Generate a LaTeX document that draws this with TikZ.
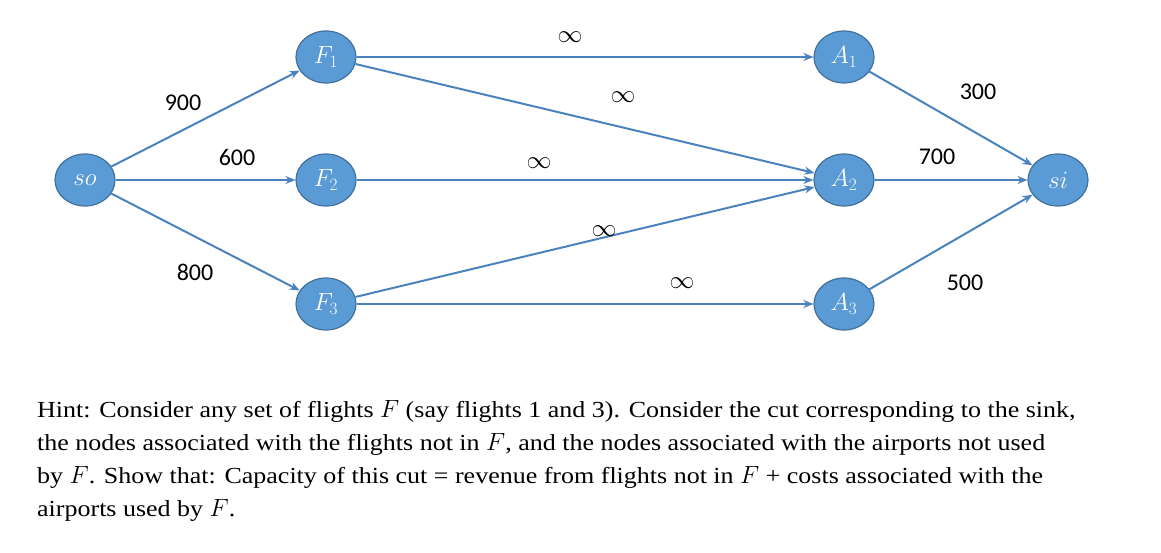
\documentclass[tikz,border=0pt]{standalone}
\usepackage{fontspec}
\setmainfont{Liberation Serif}[FakeStretch=1.13]
\newfontfamily\numfont{Carlito}
\usetikzlibrary{shapes.geometric,arrows.meta}
\definecolor{nodefill}{HTML}{5B9BD5}
\definecolor{nodeedge}{HTML}{41719C}
\definecolor{edgecol}{HTML}{4A82BE}
\begin{document}
\begin{tikzpicture}[x=1pt,y=-1pt,
  vert/.style={ellipse,fill=nodefill,draw=nodeedge,line width=1.2pt,minimum width=60pt,minimum height=52pt,inner sep=0pt,text=white,font=\fontsize{23}{23}\selectfont},
  arc/.style={draw=edgecol,line width=2pt,-{Stealth[length=10pt,width=8pt]}},
  caplabel/.style={font=\numfont\fontsize{24}{24}\selectfont,text=black},
  inf/.style={font=\fontsize{24}{24}\selectfont,text=black}]
\useasboundingbox (0,0) rectangle (1161,553);
\node[vert] (so) at (85,180) {$so$};
\node[vert] (F1) at (326,57) {$F_1$};
\node[vert] (F2) at (326,180) {$F_2$};
\node[vert] (F3) at (326,304) {$F_3$};
\node[vert] (A1) at (844,57) {$A_1$};
\node[vert] (A2) at (844,180) {$A_2$};
\node[vert] (A3) at (844,304) {$A_3$};
\node[vert] (si) at (1058,180) {$si$};
\draw[arc] (so) -- (F1);
\draw[arc] (so) -- (F2);
\draw[arc] (so) -- (F3);
\draw[arc] (F1) -- (A1);
\draw[arc] (F1) -- (A2);
\draw[arc] (F2) -- (A2);
\draw[arc] (F3) -- (A2);
\draw[arc] (F3) -- (A3);
\draw[arc] (A1) -- (si);
\draw[arc] (A2) -- (si);
\draw[arc] (A3) -- (si);
\node[caplabel] (c1) at (183,103) {900};
\node[caplabel] (c2) at (237,157) {600};
\node[caplabel] (c3) at (195,272) {800};
\node[caplabel] (c4) at (978,92) {300};
\node[caplabel] (c5) at (937,157) {700};
\node[caplabel] (c6) at (965,283) {500};
\node[inf] (i1) at (570,37) {$\infty$};
\node[inf] (i2) at (623,97) {$\infty$};
\node[inf] (i3) at (539,163) {$\infty$};
\node[inf] (i4) at (604,231) {$\infty$};
\node[inf] (i5) at (682,283) {$\infty$};
\node[anchor=north west,align=left,inner sep=0pt,font=\fontsize{23}{33}\selectfont] (hint) at (37,400)
{Hint: Consider any set of flights $F$ (say flights 1 and 3). Consider the cut corresponding to the sink,\\
the nodes associated with the flights not in $F$, and the nodes associated with the airports not used\\
by $F$. Show that: Capacity of this cut = revenue from flights not in $F$ + costs associated with the\\
airports used by $F$.};
\end{tikzpicture}
\end{document}
